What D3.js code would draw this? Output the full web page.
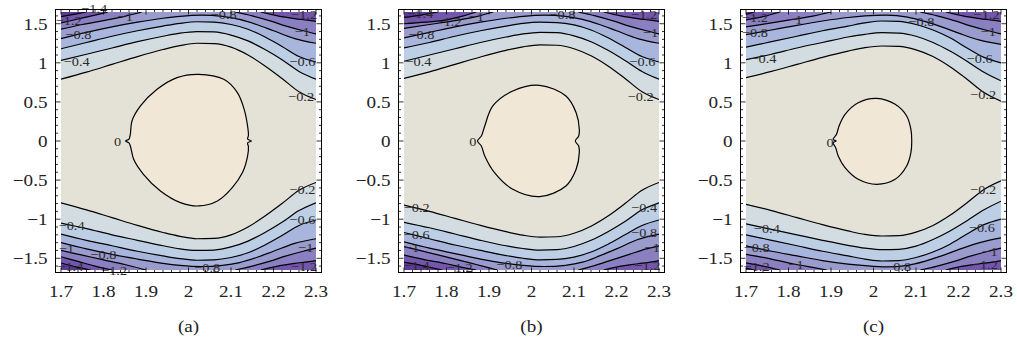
<!DOCTYPE html>
<html>
	<head>
		<meta charset="utf-8">
		<title>Contours</title>
		<script src="https://d3js.org/d3.v7.min.js"></script>
		<style>
			body { margin: 0; background: #fff; }
		</style>
	</head>
	<body>
		<script>

		// contour levels and the band colours below each one
		var levels = [-0.2, -0.4, -0.6, -0.8, -1, -1.2, -1.4];
		var bandColors = ["#bfd0e2", "#d3dce0", "#bccfe5", "#a8b5dc", "#9a9ccd", "#8a7fc0", "#7357ac", "#5c3a97"];
		var innerColor = "#f0e7d7";
		var outerColor = "#e4e2d7";

		var xTicks = [1.7, 1.8, 1.9, 2, 2.1, 2.2, 2.3];
		var xTickLabels = ["1.7", "1.8", "1.9", "2", "2.1", "2.2", "2.3"];
		var yTicks = [-1.5, -1, -0.5, 0, 0.5, 1, 1.5];
		var yTickLabels = ["\u22121.5", "\u22121", "\u22120.5", "0", "0.5", "1", "1.5"];
		var captions = ["(a)", "(b)", "(c)"];

		// ---- panel (a) ----
		var zeroA = [[2.024,0.853],[2.083,0.789],[2.115,0.619],[2.131,0.405],[2.139,0.192],[2.141,0.07],[2.139,0.025],[2.148,0],[2.139,-0.025],[2.141,-0.07],[2.139,-0.192],[2.127,-0.404],[2.103,-0.596],[2.068,-0.767],[2.024,-0.831],[1.981,-0.788],[1.934,-0.639],[1.894,-0.426],[1.871,-0.234],[1.864,-0.08],[1.860,-0.025],[1.852,0],[1.860,0.025],[1.863,0.08],[1.867,0.256],[1.887,0.448],[1.926,0.661],[1.973,0.811]];
		var upperA = [
			{lv:-0.2, pts:[[1.70,0.79],[1.76,0.88],[1.82,0.98],[1.88,1.08],[1.94,1.17],[1.98,1.22],[2.02,1.25],[2.06,1.245],[2.10,1.20],[2.14,1.10],[2.18,0.96],[2.22,0.80],[2.26,0.63],[2.30,0.53]]},
			{lv:-0.4, pts:[[1.70,1.03],[1.76,1.11],[1.82,1.19],[1.88,1.27],[1.94,1.34],[1.98,1.38],[2.02,1.40],[2.06,1.395],[2.10,1.355],[2.14,1.28],[2.18,1.17],[2.22,1.04],[2.26,0.89],[2.30,0.79]]},
			{lv:-0.6, pts:[[1.70,1.18],[1.76,1.26],[1.82,1.34],[1.88,1.41],[1.94,1.47],[1.98,1.505],[2.02,1.525],[2.06,1.52],[2.10,1.49],[2.14,1.43],[2.18,1.33],[2.22,1.21],[2.26,1.08],[2.30,1.01]]},
			{lv:-0.8, pts:[[1.70,1.31],[1.76,1.39],[1.82,1.46],[1.88,1.52],[1.94,1.57],[1.98,1.595],[2.03,1.61],[2.08,1.595],[2.12,1.555],[2.16,1.49],[2.20,1.41],[2.25,1.31],[2.30,1.25]]},
			{lv:-1, pts:[[1.70,1.43],[1.75,1.49],[1.80,1.54],[1.85,1.595],[1.89,1.65]]},
			{lv:-1, pts:[[2.11,1.65],[2.15,1.60],[2.19,1.54],[2.23,1.47],[2.27,1.41],[2.30,1.37]]},
			{lv:-1.2, pts:[[1.70,1.51],[1.74,1.56],[1.78,1.61],[1.81,1.65]]},
			{lv:-1.2, pts:[[2.17,1.65],[2.21,1.60],[2.25,1.565],[2.28,1.545],[2.30,1.53]]},
			{lv:-1.4, pts:[[1.70,1.59],[1.73,1.62],[1.76,1.65]]}
		];
		var lowerA = [
			{lv:-0.2, pts:[[1.70,-0.79],[1.76,-0.88],[1.82,-0.98],[1.88,-1.08],[1.94,-1.17],[1.98,-1.22],[2.02,-1.25],[2.06,-1.245],[2.10,-1.20],[2.14,-1.10],[2.18,-0.96],[2.22,-0.80],[2.26,-0.63],[2.30,-0.53]]},
			{lv:-0.4, pts:[[1.70,-1.05],[1.76,-1.12],[1.82,-1.20],[1.88,-1.27],[1.94,-1.34],[1.98,-1.38],[2.02,-1.40],[2.06,-1.395],[2.10,-1.355],[2.14,-1.28],[2.18,-1.17],[2.22,-1.04],[2.26,-0.89],[2.30,-0.79]]},
			{lv:-0.6, pts:[[1.70,-1.19],[1.76,-1.27],[1.82,-1.34],[1.88,-1.41],[1.94,-1.47],[1.98,-1.505],[2.02,-1.525],[2.06,-1.52],[2.10,-1.49],[2.14,-1.43],[2.18,-1.33],[2.22,-1.21],[2.26,-1.08],[2.30,-1.01]]},
			{lv:-0.8, pts:[[1.70,-1.30],[1.76,-1.38],[1.82,-1.45],[1.88,-1.51],[1.94,-1.565],[1.98,-1.59],[2.03,-1.605],[2.08,-1.59],[2.12,-1.555],[2.16,-1.49],[2.20,-1.41],[2.25,-1.31],[2.30,-1.25]]},
			{lv:-1, pts:[[1.70,-1.40],[1.75,-1.46],[1.80,-1.52],[1.85,-1.58],[1.90,-1.65]]},
			{lv:-1, pts:[[2.11,-1.65],[2.15,-1.60],[2.19,-1.54],[2.23,-1.47],[2.27,-1.41],[2.30,-1.37]]},
			{lv:-1.2, pts:[[1.70,-1.48],[1.74,-1.54],[1.78,-1.60],[1.82,-1.65]]},
			{lv:-1.2, pts:[[2.17,-1.65],[2.21,-1.60],[2.25,-1.565],[2.28,-1.545],[2.30,-1.53]]},
			{lv:-1.4, pts:[[1.70,-1.56],[1.735,-1.61],[1.77,-1.65]]}
		];
		var labelsA = [["\u22121.4",1.778,1.70],["\u22121.2",1.718,1.55],["\u22121",1.851,1.60],["\u22120.8",1.741,1.364],["\u22120.4",1.737,1.023],["\u22120.8",2.083,1.62],["\u22121.2",2.272,1.62],["\u22121",2.268,1.407],["\u22120.6",2.268,1.023],["\u22120.2",2.265,0.575],["0",1.833,0],
			["\u22120.4",1.725,-1.08],["\u22121",1.713,-1.375],["\u22120.8",1.80,-1.445],["\u22121.4",1.722,-1.605],["\u22121.2",1.825,-1.65],["\u22120.8",2.044,-1.61],["\u22120.2",2.268,-0.618],["\u22120.6",2.268,-1.0],["\u22121",2.276,-1.364],["\u22121.2",2.272,-1.60]];

		// ---- panel (b) ----
		var zeroB = [[2.019,0.712],[2.081,0.575],[2.105,0.362],[2.1125,0.149],[2.111,0.064],[2.103,0],[2.111,-0.064],[2.1125,-0.149],[2.105,-0.362],[2.081,-0.575],[2.019,-0.712],[1.956,-0.618],[1.913,-0.405],[1.890,-0.192],[1.882,-0.064],[1.873,0],[1.882,0.064],[1.890,0.192],[1.909,0.448],[1.956,0.639]];
		var upperB = [
			{lv:-0.2, pts:[[1.70,0.80],[1.76,0.885],[1.82,0.98],[1.88,1.075],[1.94,1.16],[1.98,1.205],[2.02,1.23],[2.06,1.225],[2.10,1.18],[2.14,1.09],[2.18,0.96],[2.22,0.80],[2.26,0.63],[2.30,0.53]]},
			{lv:-0.4, pts:[[1.70,1.02],[1.76,1.10],[1.82,1.18],[1.88,1.26],[1.94,1.33],[1.98,1.37],[2.02,1.39],[2.06,1.385],[2.10,1.345],[2.14,1.27],[2.18,1.16],[2.22,1.03],[2.26,0.89],[2.30,0.79]]},
			{lv:-0.6, pts:[[1.70,1.19],[1.76,1.26],[1.82,1.34],[1.88,1.41],[1.94,1.47],[1.98,1.505],[2.02,1.52],[2.06,1.515],[2.10,1.485],[2.14,1.42],[2.18,1.32],[2.22,1.20],[2.26,1.08],[2.30,1.01]]},
			{lv:-0.8, pts:[[1.70,1.32],[1.76,1.39],[1.82,1.46],[1.88,1.52],[1.94,1.57],[1.98,1.595],[2.03,1.61],[2.08,1.595],[2.12,1.555],[2.16,1.49],[2.20,1.41],[2.25,1.31],[2.30,1.25]]},
			{lv:-1, pts:[[1.70,1.44],[1.76,1.49],[1.82,1.54],[1.87,1.59],[1.91,1.65]]},
			{lv:-1, pts:[[2.11,1.65],[2.15,1.60],[2.19,1.54],[2.23,1.47],[2.27,1.41],[2.30,1.37]]},
			{lv:-1.2, pts:[[1.70,1.50],[1.75,1.52],[1.80,1.55],[1.84,1.60],[1.87,1.65]]},
			{lv:-1.2, pts:[[2.17,1.65],[2.21,1.60],[2.25,1.565],[2.28,1.545],[2.30,1.53]]},
			{lv:-1.4, pts:[[1.70,1.58],[1.74,1.61],[1.78,1.65]]}
		];
		var lowerB = [
			{lv:-0.2, pts:[[1.70,-0.82],[1.76,-0.90],[1.82,-0.99],[1.88,-1.08],[1.94,-1.16],[1.98,-1.205],[2.02,-1.23],[2.06,-1.225],[2.10,-1.18],[2.14,-1.09],[2.18,-0.96],[2.22,-0.80],[2.26,-0.63],[2.30,-0.53]]},
			{lv:-0.4, pts:[[1.70,-1.04],[1.76,-1.11],[1.82,-1.19],[1.88,-1.27],[1.94,-1.34],[1.98,-1.375],[2.02,-1.395],[2.06,-1.39],[2.10,-1.35],[2.14,-1.27],[2.18,-1.16],[2.22,-1.03],[2.26,-0.88],[2.30,-0.79]]},
			{lv:-0.6, pts:[[1.70,-1.17],[1.76,-1.25],[1.82,-1.33],[1.88,-1.40],[1.94,-1.465],[1.98,-1.50],[2.02,-1.52],[2.06,-1.515],[2.10,-1.485],[2.14,-1.42],[2.18,-1.32],[2.22,-1.20],[2.26,-1.08],[2.30,-1.01]]},
			{lv:-0.8, pts:[[1.70,-1.29],[1.76,-1.37],[1.82,-1.44],[1.88,-1.51],[1.94,-1.565],[1.98,-1.59],[2.03,-1.605],[2.08,-1.59],[2.12,-1.55],[2.16,-1.47],[2.20,-1.38],[2.25,-1.26],[2.30,-1.19]]},
			{lv:-1, pts:[[1.70,-1.35],[1.76,-1.43],[1.82,-1.51],[1.87,-1.58],[1.92,-1.65]]},
			{lv:-1, pts:[[2.11,-1.65],[2.15,-1.59],[2.19,-1.52],[2.23,-1.45],[2.27,-1.38],[2.30,-1.34]]},
			{lv:-1.2, pts:[[1.70,-1.46],[1.75,-1.52],[1.80,-1.57],[1.84,-1.62],[1.87,-1.65]]},
			{lv:-1.2, pts:[[2.17,-1.65],[2.21,-1.60],[2.25,-1.57],[2.28,-1.55],[2.30,-1.53]]},
			{lv:-1.4, pts:[[1.70,-1.55],[1.74,-1.59],[1.79,-1.65]]}
		];
		var labelsB = [["\u22121.4",1.738,1.63],["\u22121.2",1.805,1.53],["\u22121",1.870,1.60],["\u22120.8",1.741,1.364],["\u22120.4",1.734,1.023],["\u22120.8",2.073,1.62],["\u22121.2",2.265,1.62],["\u22121",2.280,1.385],["\u22120.6",2.261,1.023],["\u22120.2",2.257,0.575],["0",1.862,0],
			["\u22120.2",1.730,-0.853],["\u22120.6",1.730,-1.19],["\u22121",1.718,-1.364],["\u22121.4",1.730,-1.59],["\u22121.2",1.831,-1.61],["\u22120.8",1.948,-1.577],["\u22120.4",2.265,-0.853],["\u22120.8",2.265,-1.172],["\u22121",2.284,-1.364],["\u22121.2",2.273,-1.585]];

		// ---- panel (c) ----
		var zeroC = [[2.0075,0.546],[2.051,0.469],[2.078,0.32],[2.088,0.149],[2.090,0],[2.088,-0.149],[2.078,-0.32],[2.051,-0.49],[2.0075,-0.554],[1.964,-0.49],[1.933,-0.341],[1.917,-0.192],[1.911,-0.085],[1.905,-0.02],[1.912,0],[1.905,0.02],[1.913,0.085],[1.919,0.192],[1.933,0.341],[1.964,0.49]];
		var upperC = [
			{lv:-0.2, pts:[[1.70,0.81],[1.76,0.89],[1.82,0.98],[1.88,1.07],[1.94,1.15],[1.98,1.195],[2.02,1.215],[2.06,1.21],[2.10,1.165],[2.14,1.08],[2.18,0.95],[2.22,0.79],[2.26,0.62],[2.30,0.51]]},
			{lv:-0.4, pts:[[1.70,1.04],[1.76,1.11],[1.82,1.19],[1.88,1.26],[1.94,1.33],[1.98,1.365],[2.02,1.385],[2.06,1.38],[2.10,1.34],[2.14,1.26],[2.18,1.15],[2.22,1.02],[2.26,0.88],[2.30,0.77]]},
			{lv:-0.6, pts:[[1.70,1.20],[1.76,1.27],[1.82,1.34],[1.88,1.41],[1.94,1.47],[1.98,1.51],[2.02,1.535],[2.06,1.53],[2.10,1.49],[2.14,1.42],[2.18,1.32],[2.22,1.19],[2.26,1.07],[2.30,1.00]]},
			{lv:-0.8, pts:[[1.70,1.36],[1.76,1.42],[1.82,1.48],[1.88,1.535],[1.94,1.58],[1.98,1.60],[2.03,1.61],[2.08,1.585],[2.12,1.53],[2.16,1.46],[2.20,1.38],[2.25,1.29],[2.30,1.236]]},
			{lv:-1, pts:[[1.70,1.46],[1.76,1.51],[1.81,1.555],[1.86,1.60],[1.90,1.65]]},
			{lv:-1, pts:[[2.11,1.65],[2.15,1.60],[2.19,1.54],[2.23,1.47],[2.27,1.41],[2.30,1.37]]},
			{lv:-1.2, pts:[[1.70,1.55],[1.74,1.59],[1.78,1.65]]},
			{lv:-1.2, pts:[[2.17,1.65],[2.21,1.60],[2.25,1.565],[2.28,1.545],[2.30,1.53]]},
			{lv:-1.4, pts:[[1.70,1.62],[1.72,1.65]]}
		];
		var lowerC = [
			{lv:-0.2, pts:[[1.70,-0.81],[1.76,-0.89],[1.82,-0.98],[1.88,-1.07],[1.94,-1.15],[1.98,-1.195],[2.02,-1.215],[2.06,-1.21],[2.10,-1.165],[2.14,-1.08],[2.18,-0.95],[2.22,-0.79],[2.26,-0.62],[2.30,-0.51]]},
			{lv:-0.4, pts:[[1.70,-1.06],[1.76,-1.13],[1.82,-1.20],[1.88,-1.27],[1.94,-1.335],[1.98,-1.37],[2.02,-1.39],[2.06,-1.385],[2.10,-1.345],[2.14,-1.26],[2.18,-1.15],[2.22,-1.02],[2.26,-0.88],[2.30,-0.77]]},
			{lv:-0.6, pts:[[1.70,-1.20],[1.76,-1.27],[1.82,-1.34],[1.88,-1.41],[1.94,-1.47],[1.98,-1.51],[2.02,-1.535],[2.06,-1.53],[2.10,-1.49],[2.14,-1.42],[2.18,-1.32],[2.22,-1.19],[2.26,-1.07],[2.30,-1.00]]},
			{lv:-0.8, pts:[[1.70,-1.34],[1.76,-1.41],[1.82,-1.47],[1.88,-1.53],[1.94,-1.575],[1.98,-1.595],[2.03,-1.61],[2.08,-1.59],[2.12,-1.54],[2.16,-1.47],[2.20,-1.39],[2.25,-1.30],[2.30,-1.24]]},
			{lv:-1, pts:[[1.70,-1.45],[1.76,-1.51],[1.81,-1.57],[1.86,-1.62],[1.89,-1.65]]},
			{lv:-1, pts:[[2.11,-1.65],[2.15,-1.60],[2.19,-1.54],[2.23,-1.47],[2.27,-1.41],[2.30,-1.37]]},
			{lv:-1.2, pts:[[1.70,-1.56],[1.74,-1.60],[1.78,-1.65]]},
			{lv:-1.2, pts:[[2.17,-1.65],[2.21,-1.60],[2.25,-1.57],[2.28,-1.55],[2.30,-1.53]]},
			{lv:-1.4, pts:[[1.70,-1.625],[1.72,-1.65]]}
		];
		var labelsC = [["\u22121.2",1.721,1.577],["\u22121",1.815,1.556],["\u22120.8",1.721,1.385],["\u22120.4",1.741,1.053],["\u22120.8",2.113,1.535],["\u22121.2",2.266,1.62],["\u22121",2.270,1.407],["\u22120.6",2.250,1.053],["\u22120.2",2.258,0.597],["0",1.898,-0.02],
			["\u22120.4",1.749,-1.12],["\u22120.8",1.725,-1.364],["\u22121.2",1.725,-1.60],["\u22121",1.818,-1.577],["\u22120.8",2.058,-1.60],["\u22120.2",2.258,-0.618],["\u22120.6",2.255,-1.10],["\u22121",2.274,-1.407],["\u22121.2",2.262,-1.577]];

		var panels = [
			{zero: zeroA, upper: upperA, lower: lowerA, labels: labelsA},
			{zero: zeroB, upper: upperB, lower: lowerB, labels: labelsB},
			{zero: zeroC, upper: upperC, lower: lowerC, labels: labelsC}
		];

		var width = 1017, height = 345;
		var panelLeft = [61, 404, 746];
		var pw = 255, plotTop = 12, plotBottom = 270;
		var padX = 5.5, padY = 2.5;
		var serif = "Liberation Serif, DejaVu Serif, serif";
		var stretch = 1.16;

		var svg = d3.select("body").append("svg")
			.attr("width", width)
			.attr("height", height)
			.attr("font-family", serif);

		panels.forEach(function(p, i) {
			var x = d3.scaleLinear().domain([1.7, 2.3]).range([0, pw]);
			var y = d3.scaleLinear().domain([-1.65, 1.65]).range([plotBottom, plotTop]);

			var g = svg.append("g").attr("transform", "translate(" + panelLeft[i] + ",0)");

			g.append("clipPath").attr("id", "clip" + i)
				.append("rect")
				.attr("x", 0).attr("y", plotTop)
				.attr("width", pw).attr("height", plotBottom - plotTop);

			var plot = g.append("g").attr("clip-path", "url(#clip" + i + ")");

			var line = d3.line()
				.x(function(d) { return x(d[0]); })
				.y(function(d) { return y(d[1]); })
				.curve(d3.curveMonotoneX);
			var loop = d3.line()
				.x(function(d) { return x(d[0]); })
				.y(function(d) { return y(d[1]); })
				.curve(d3.curveCatmullRomClosed.alpha(0.5));

			function region(piece, edge) {
				var a = piece.pts[0], b = piece.pts[piece.pts.length - 1];
				return line(piece.pts) + "L" + x(b[0]) + "," + y(edge) + "L" + x(a[0]) + "," + y(edge) + "Z";
			}

			plot.append("rect")
				.attr("x", 0).attr("y", plotTop)
				.attr("width", pw).attr("height", plotBottom - plotTop)
				.attr("fill", outerColor);

			// fill from the highest level down so lower bands sit on top
			levels.forEach(function(lv, k) {
				p.upper.filter(function(c) { return c.lv == lv; }).forEach(function(c) {
					plot.append("path").attr("d", region(c, 1.8)).attr("fill", bandColors[k + 1]);
				});
				p.lower.filter(function(c) { return c.lv == lv; }).forEach(function(c) {
					plot.append("path").attr("d", region(c, -1.8)).attr("fill", bandColors[k + 1]);
				});
			});

			plot.append("path").datum(p.zero)
				.attr("d", loop)
				.attr("fill", innerColor)
				.attr("stroke", "#000")
				.attr("stroke-width", 1.2);

			plot.selectAll("path.cl")
				.data(p.upper.concat(p.lower))
				.enter().append("path")
				.attr("class", "cl")
				.attr("d", function(c) { return line(c.pts); })
				.attr("fill", "none")
				.attr("stroke", "#000")
				.attr("stroke-width", 1.2);

			g.selectAll("text.lab")
				.data(p.labels)
				.enter().append("text")
				.attr("class", "lab")
				.attr("transform", function(d) { return "translate(" + x(d[1]) + "," + y(d[2]) + ") scale(1.06,1)"; })
				.attr("dy", "0.35em")
				.attr("text-anchor", "middle")
				.attr("font-family", serif)
				.attr("font-size", 13.5)
				.attr("fill", "#2a2a2a")
				.text(function(d) { return d[0]; });

			// frame
			var fx0 = -padX, fx1 = pw + padX, fy0 = plotTop - padY, fy1 = plotBottom + padY;
			g.append("rect")
				.attr("x", fx0).attr("y", fy0)
				.attr("width", fx1 - fx0).attr("height", fy1 - fy0)
				.attr("fill", "none")
				.attr("stroke", "#000")
				.attr("stroke-width", 1);

			var xMinor = d3.range(1.7, 2.3001, 0.02);
			var yMinor = d3.range(-1.6, 1.6001, 0.1);
			var ticks = g.append("g").attr("stroke", "#000").attr("stroke-width", 0.8);
			xMinor.forEach(function(v) {
				var major = xTicks.some(function(t) { return Math.abs(t - v) < 1e-6; });
				var len = major ? 5 : 2.5;
				ticks.append("line").attr("x1", x(v)).attr("x2", x(v)).attr("y1", fy1).attr("y2", fy1 - len);
				ticks.append("line").attr("x1", x(v)).attr("x2", x(v)).attr("y1", fy0).attr("y2", fy0 + len);
			});
			yMinor.forEach(function(v) {
				var major = yTicks.some(function(t) { return Math.abs(t - v) < 1e-6; });
				var len = major ? 5 : 2.5;
				ticks.append("line").attr("x1", fx0).attr("x2", fx0 + len).attr("y1", y(v)).attr("y2", y(v));
				ticks.append("line").attr("x1", fx1).attr("x2", fx1 - len).attr("y1", y(v)).attr("y2", y(v));
			});

			g.selectAll("text.xt")
				.data(xTicks)
				.enter().append("text")
				.attr("class", "xt")
				.attr("transform", function(d) { return "translate(" + x(d) + "," + (fy1 + 24.5) + ") scale(" + stretch + ",1)"; })
				.attr("text-anchor", "middle")
				.attr("font-family", serif)
				.attr("font-size", 16.5)
				.attr("fill", "#222")
				.text(function(d, j) { return xTickLabels[j]; });

			g.selectAll("text.yt")
				.data(yTicks)
				.enter().append("text")
				.attr("class", "yt")
				.attr("transform", function(d) { return "translate(" + (fx0 - 8) + "," + y(d) + ") scale(" + stretch + ",1)"; })
				.attr("dy", "0.35em")
				.attr("text-anchor", "end")
				.attr("font-family", serif)
				.attr("font-size", 16.5)
				.attr("fill", "#222")
				.text(function(d, j) { return yTickLabels[j]; });

			g.append("text")
				.attr("transform", "translate(" + (pw / 2) + ",332) scale(" + stretch + ",1)")
				.attr("text-anchor", "middle")
				.attr("font-family", serif)
				.attr("font-size", 16.5)
				.attr("fill", "#222")
				.text(captions[i]);
		});

		</script>
	</body>
</html>
